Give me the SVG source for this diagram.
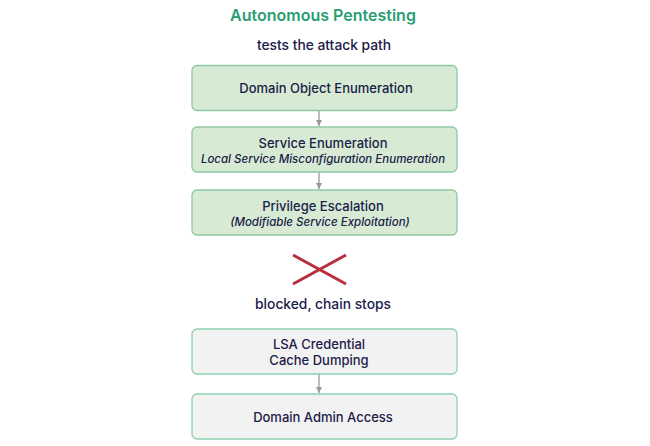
<svg xmlns="http://www.w3.org/2000/svg" width="650" height="446" viewBox="0 0 650 446">
<style>
text{font-family:Inter,"Open Sans","Liberation Sans",sans-serif;text-anchor:middle;fill:#1a2048}
.title{font-size:16px;font-weight:600;fill:#2a9d73}
.sub{font-size:13.8px;font-weight:500}
.lbl{font-size:13px;font-weight:500}
.it{font-size:11.5px;font-style:italic;font-weight:500}
.g{fill:#d7ebd4;stroke:#8fc8a4;stroke-width:1.3}
.n{fill:#f2f2f2;stroke:#8fd0b0;stroke-width:1.3}
.c{stroke:#999;stroke-width:1.3;fill:none}
</style>
<defs>
<marker id="ah" viewBox="0 0 10 10" refX="10" refY="5" markerWidth="6" markerHeight="6" orient="auto" markerUnits="userSpaceOnUse">
<path d="M0,0 L10,5 L0,10 z" fill="#999"/>
</marker>
</defs>
<rect width="650" height="446" fill="#fff"/>
<text class="title" x="323" y="21">Autonomous Pentesting</text>
<text class="sub" x="324" y="50">tests the attack path</text>
<g id="connectors">
<line class="c" x1="319" y1="111" x2="319" y2="126" marker-end="url(#ah)"/>
<line class="c" x1="319" y1="172" x2="319" y2="189" marker-end="url(#ah)"/>
<line class="c" x1="319" y1="374" x2="319" y2="393" marker-end="url(#ah)"/>
</g>
<g id="node1">
<rect class="g" x="192" y="65.5" width="265" height="45" rx="5"/>
<text class="lbl" x="326" y="93">Domain Object Enumeration</text>
</g>
<g id="node2">
<rect class="g" x="192" y="127" width="265" height="45" rx="5"/>
<text class="lbl" x="323" y="148">Service Enumeration</text>
<text class="it" x="323" y="163">Local Service Misconfiguration Enumeration</text>
</g>
<g id="node3">
<rect class="g" x="192" y="190" width="265" height="45" rx="5"/>
<text class="lbl" x="323" y="211">Privilege Escalation</text>
<text class="it" x="320" y="226">(Modifiable Service Exploitation)</text>
</g>
<g id="blocked">
<line x1="293" y1="255" x2="346" y2="284" stroke="#b8303f" stroke-width="3"/>
<line x1="293" y1="284" x2="346" y2="255" stroke="#b8303f" stroke-width="3"/>
<text class="sub" x="323" y="309">blocked, chain stops</text>
</g>
<g id="node4">
<rect class="n" x="192" y="329" width="265" height="45" rx="5"/>
<text class="lbl" x="319" y="349">LSA Credential</text>
<text class="lbl" x="319" y="365">Cache Dumping</text>
</g>
<g id="node5">
<rect class="n" x="192" y="394" width="265" height="45" rx="5"/>
<text class="lbl" x="323" y="422">Domain Admin Access</text>
</g>
</svg>
